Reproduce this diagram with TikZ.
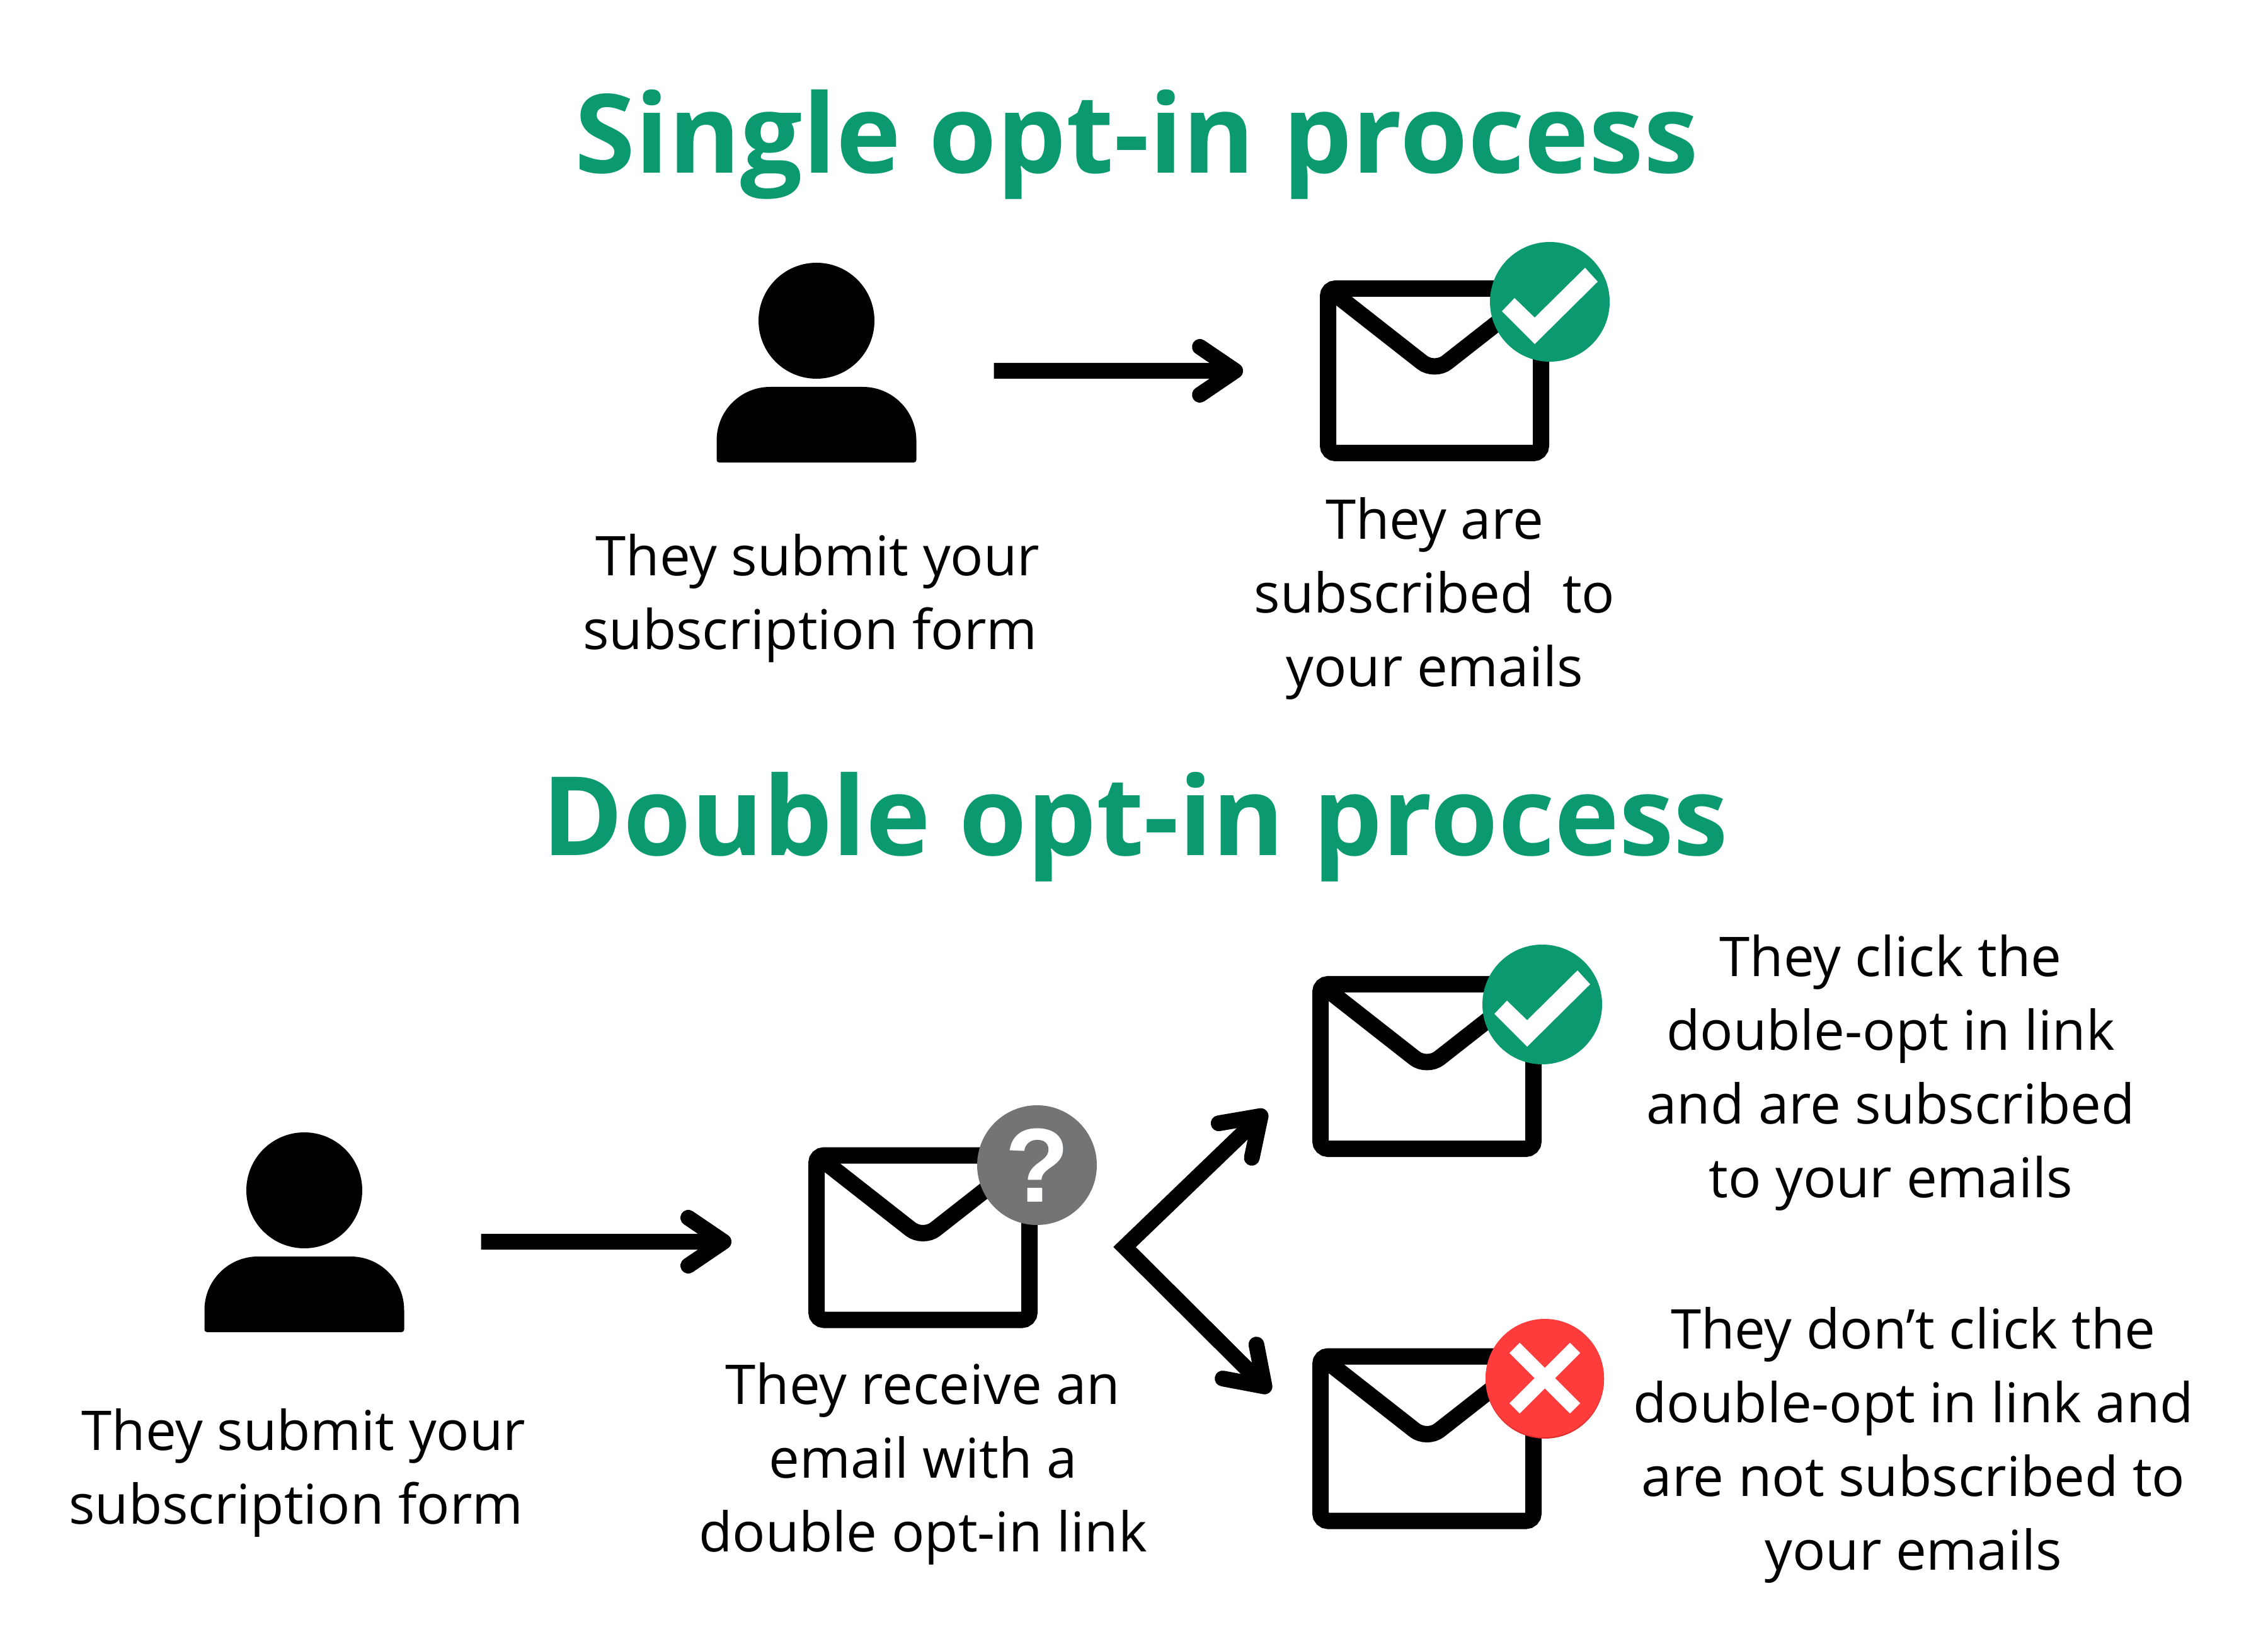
\documentclass[tikz,border=0pt]{standalone}
\usepackage{fontspec}
\setmainfont{Open Sans}
\newfontfamily\markfont{Liberation Sans}
\usetikzlibrary{arrows.meta}
\definecolor{optgreen}{HTML}{0B9A6F}
\definecolor{optgrey}{HTML}{737475}
\definecolor{optred}{HTML}{FF3C3C}
\definecolor{optdarkred}{HTML}{DD2A2A}
\tikzset{
	>={Straight Barb[length=.56cm,width=.76cm,round]},
	conn/.style={line width=.25cm},
	title/.style={text=optgreen,font=\bfseries\fontsize{49.5}{58}\selectfont},
	label/.style={align=center,font=\fontsize{24.75}{33.3}\selectfont},
	env/.style={draw,line width=.26cm,rounded corners=.12cm,minimum width=3.38cm,minimum height=2.61cm,outer sep=0pt},
	badge/.style={circle,inner sep=0pt,minimum size=1.9cm},
	person/.pic={
		\node [circle,fill,inner sep=0pt,minimum size=1.84cm] (-head) at (0,0) {};
		\node [inner sep=0pt,outer sep=0pt,minimum width=3.17cm,minimum height=1.2cm] (-body) at (0,-1.65) {};
		\fill (-1.585,-1.9) arc (180:90:.85) -- (.735,-1.05) arc (90:0:.85) -- (1.585,-2.21) arc (0:-90:.04) -- (-1.545,-2.25) arc (270:180:.04) -- cycle;
	},
	tick/.pic={
		\fill [white] (-.76,-.15) -- (-.56,.06) -- (-.24,-.25) -- (.56,.54) -- (.76,.32) -- (-.24,-.67) -- cycle;
	},
	cross/.pic={
		\draw [white,line width=.23cm] (-.48,.48) -- (.48,-.48);
		\draw [white,line width=.23cm] (-.48,-.48) -- (.48,.48);
	},
}
\newcommand{\flap}[1]{\draw [line width=.26cm,rounded corners=.25cm] (#1.north west) -- ([yshift=-.02cm]#1.center) -- (#1.north east);}

\begin{document}
\begin{tikzpicture}
	\useasboundingbox (0,0) rectangle (36,26);
	\node [title] at (18.04,23.71) (single) {Single opt-in process};
	\node [title] at (18.02,12.88) (double) {Double opt-in process};
	% upper row
	\pic (p1) at (12.96,20.91) {person};
	\node [env] at (22.77,20.115) (env1) {};
	\flap{env1}
	\node [badge,fill=optgreen] at (24.60,21.21) (badge1) {};
	\pic at (badge1) {tick};
	\draw [conn,->] ([xshift=1.23cm,yshift=.855cm]p1-body.east) -- ([xshift=-1.35cm]env1.west);
	\node [label] at (12.98,16.51) (text1) {They submit your\\subscription form\hspace*{.24cm}};
	\node [label] at (22.77,16.50) (text2) {They are\\subscribed\ \ to\\your emails};
	% lower row
	\pic (p2) at (4.83,7.11) {person};
	\node [env] at (14.65,6.36) (envq) {};
	\flap{envq}
	\node [badge,fill=optgrey,text=white,font=\markfont\bfseries\fontsize{47.5}{48}\selectfont] at (16.46,7.51) (badgeq) {?};
	\draw [conn,->] ([xshift=1.22cm,yshift=.835cm]p2-body.east) -- ([xshift=-1.35cm,yshift=-.065cm]envq.west);
	\node [env] at (22.65,9.075) (envyes) {};
	\flap{envyes}
	\node [badge,fill=optgreen] at (24.48,10.06) (badgeyes) {};
	\pic at (badgeyes) {tick};
	\node [env] at (22.65,3.17) (envno) {};
	\flap{envno}
	\node [badge,fill=optdarkred,minimum size=1.88cm] at (24.52,4.11) (edgeno) {};
	\node [badge,fill=optred,minimum size=1.88cm] at (24.52,4.13) (badgeno) {};
	\pic at (badgeno) {cross};
	\coordinate (fork) at (17.85,6.21);
	\draw [conn,<->] ([xshift=-.86cm,yshift=-.70cm]envyes.west) -- (fork) -- ([xshift=-.80cm,yshift=.74cm]envno.west);
	\node [label] at (4.82,2.63) (text3) {They submit your\\subscription form\hspace*{.24cm}};
	\node [label] at (14.65,2.775) (text4) {They receive an\\email with a\\double opt-in link};
	\node [label] at (30.01,8.98) (text5) {They click the\\double-opt in link\\and are subscribed\\to your emails};
	\node [label] at (30.37,3.07) (text6) {They don’t click the\\double-opt in link and\\are not subscribed to\\your emails};
\end{tikzpicture}
\end{document}
